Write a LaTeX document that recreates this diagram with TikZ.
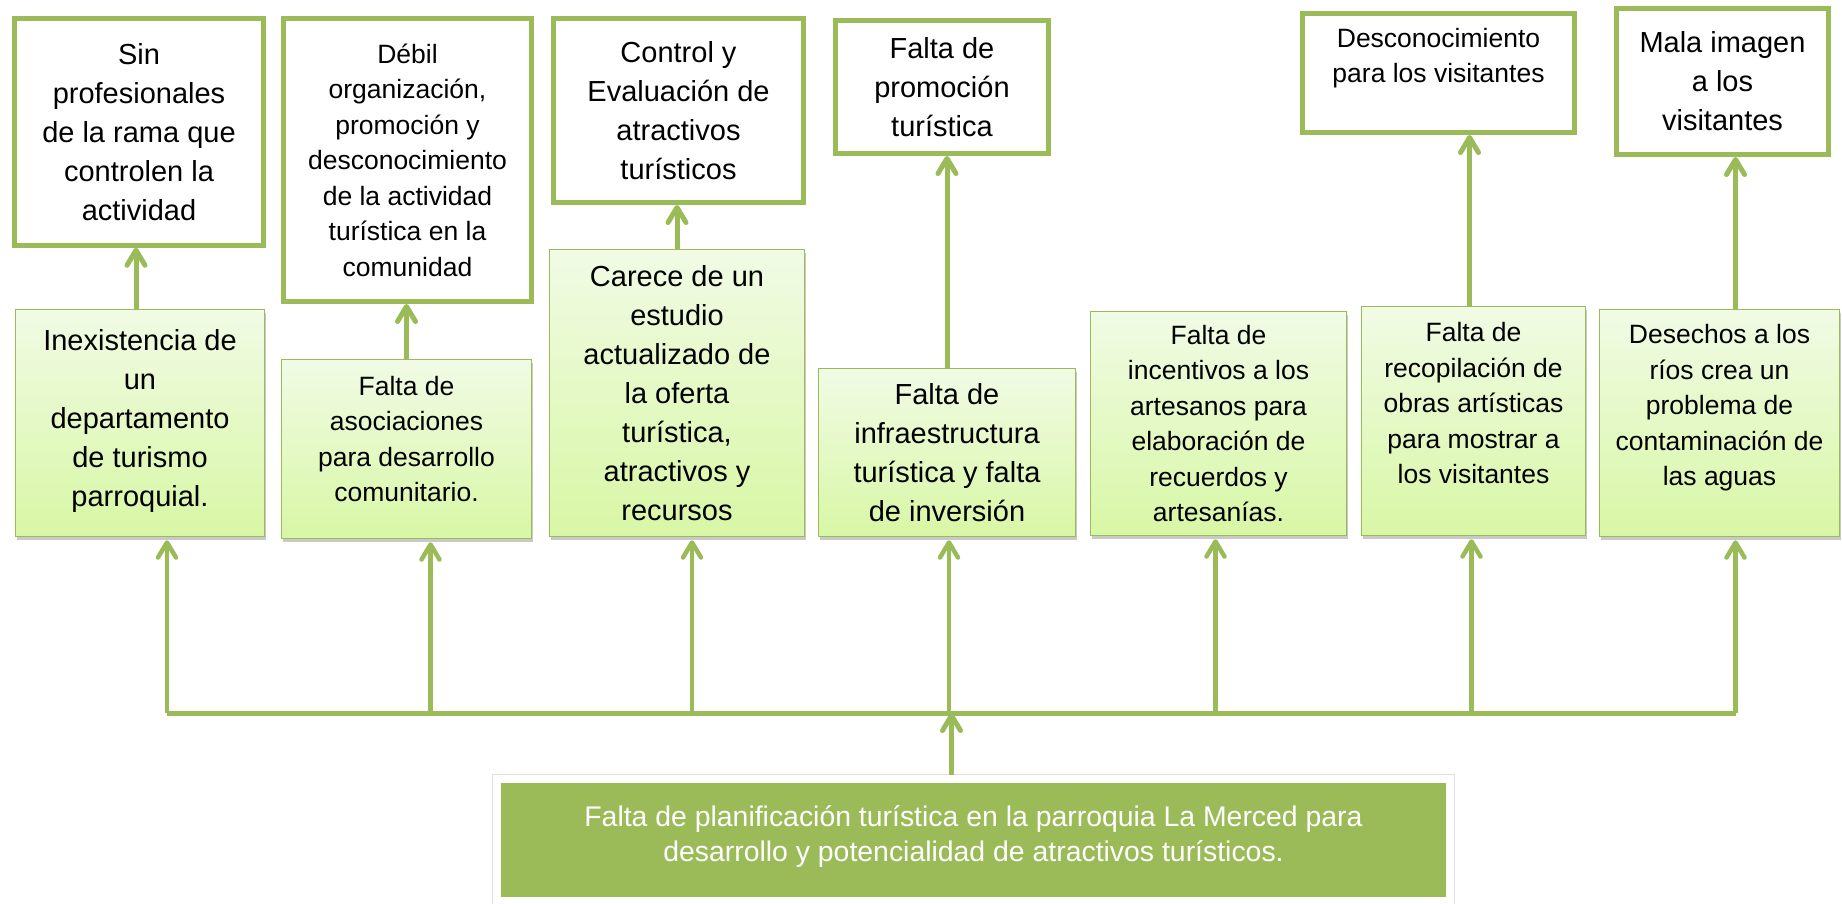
\documentclass[tikz,border=0pt]{standalone}
\usepackage{fontspec}
\setmainfont{Liberation Sans}
\usetikzlibrary{arrows.meta,shadows}
\definecolor{leaf}{HTML}{9BBB59}
\definecolor{paleleaf}{HTML}{F1FBE5}
\definecolor{lightleaf}{HTML}{D8F7A5}

\begin{document}
\begin{tikzpicture}[x=1pt, y=-1pt,
    bigtext/.style={font=\fontsize{29}{39}\selectfont},
    smalltext/.style={font=\fontsize{26.5}{35.5}\selectfont},
    effect/.style={rectangle, draw=leaf, line width=5pt, fill=white, align=center},
    cause/.style={rectangle, draw=leaf, line width=1.5pt, top color=paleleaf, bottom color=lightleaf, align=center,
        drop shadow={shadow xshift=1.5pt, shadow yshift=-3pt, opacity=0.3, fill=black!70}},
    problem/.style={rectangle, fill=leaf, draw=white, line width=8pt, preaction={draw=black!12, line width=10pt},
        text=white, align=center, font=\fontsize{28.4}{35}\selectfont},
    link/.style={draw=leaf, line width=5pt, -{Straight Barb[length=15pt, width=18pt, line cap=round, line join=round]}},
    riser/.style={draw=leaf, line width=4.5pt, shorten >=3pt, -{Straight Barb[length=15pt, width=18pt, line cap=round, line join=round]}},
    bus/.style={draw=leaf, line width=5pt}]
    \useasboundingbox (0,0) rectangle (1842,903);

    % Effects
    \node(301) at (139,132) [effect, bigtext, minimum width=249.5, minimum height=226.5] {Sin\\ profesionales\\ de la rama que\\ controlen la\\ actividad};
    \node(302) at (407.5,160) [effect, smalltext, minimum width=248, minimum height=283] {Débil\\ organización,\\ promoción y\\ desconocimiento\\ de la actividad\\ turística en la\\ comunidad};
    \node(303) at (678.5,110.5) [effect, bigtext, minimum width=250, minimum height=184] {Control y\\ Evaluación de\\ atractivos\\ turísticos};
    \node(304) at (942,87) [effect, bigtext, minimum width=213, minimum height=133] {Falta de\\ promoción\\ turística};
    \node(305) at (1438.5,73) [effect, smalltext, minimum width=272, minimum height=119] {Desconocimiento\\ para los visitantes\\ ~};
    \node(306) at (1722.5,81.5) [effect, bigtext, minimum width=212, minimum height=146] {Mala imagen\\ a los\\ visitantes};

    % Causes
    \node(201) at (140,423) [cause, bigtext, minimum width=249, minimum height=227] {Inexistencia de\\ un\\ departamento\\ de turismo\\ parroquial.\\[-29pt] ~};
    \node(202) at (406.5,449) [cause, smalltext, minimum width=250, minimum height=179] {Falta de\\ asociaciones\\ para desarrollo\\ comunitario.\\[-15pt] ~};
    \node(203) at (677,393) [cause, bigtext, minimum width=255, minimum height=287] {Carece de un\\ estudio\\ actualizado de\\ la oferta\\ turística,\\ atractivos y\\ recursos};
    \node(204) at (947,452.5) [cause, bigtext, minimum width=257, minimum height=168] {Falta de\\ infraestructura\\ turística y falta\\ de inversión};
    \node(205) at (1218.5,423.5) [cause, smalltext, minimum width=256, minimum height=224] {Falta de\\ incentivos a los\\ artesanos para\\ elaboración de\\ recuerdos y\\ artesanías.};
    \node(206) at (1473.5,421) [cause, smalltext, minimum width=224, minimum height=229] {Falta de\\ recopilación de\\ obras artísticas\\ para mostrar a\\ los visitantes\\ ~};
    \node(207) at (1719.5,423) [cause, smalltext, minimum width=240, minimum height=227] {Desechos a los\\ ríos crea un\\ problema de\\ contaminación de\\ las aguas\\ ~};

    \draw [link] ([xshift=-4pt]201.north) -- ([xshift=-4pt]201.north |- 301.south);
    \draw [link] (202.north) -- (202.north |- 302.south);
    \draw [link] (203.north) -- (203.north |- 303.south);
    \draw [link] (204.north) -- (204.north |- 304.south);
    \draw [link] ([xshift=-4pt]206.north) -- ([xshift=-4pt]206.north |- 305.south);
    \draw [link] ([xshift=16pt]207.north) -- ([xshift=16pt]207.north |- 306.south);

    % Problem
    \node(100) at (973.5,839.5) [problem, minimum width=953, minimum height=122] {Falta de planificación turística en la parroquia La Merced para\\ desarrollo y potencialidad de atractivos turísticos.\\[-23pt] ~};
    \coordinate (bus) at (0,713);

    \draw [bus] ([xshift=27pt]201.south |- bus) -- ([xshift=16pt]207.south |- bus);
    \foreach \n/\dx in {201/27, 202/24, 203/15, 204/2, 205/-3, 206/-2, 207/16}
        \draw [riser] ([xshift=\dx pt]\n.south |- bus) -- ([xshift=\dx pt]\n.south);
    \draw [link] ([xshift=-22pt]100.north) -- ([xshift=-22pt]100.north |- bus);
\end{tikzpicture}
\end{document}
